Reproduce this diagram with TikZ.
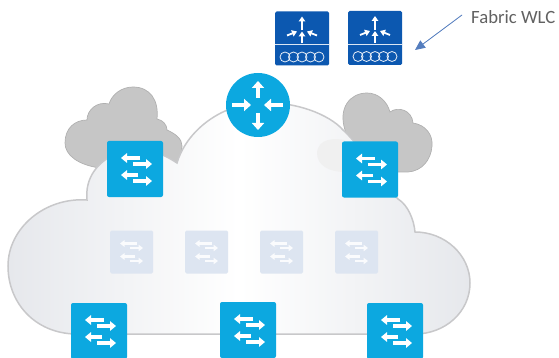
\documentclass[tikz,border=0pt]{standalone}
\usepackage{fontspec}
\setmainfont{Carlito}
\usetikzlibrary{arrows.meta}
\definecolor{swblue}{RGB}{12,168,224}
\definecolor{wlcblue}{RGB}{12,88,176}
\definecolor{pale}{RGB}{221,229,241}
\definecolor{cloudgray}{RGB}{198,198,198}
\definecolor{cloudedge}{RGB}{176,176,176}
\definecolor{bigedge}{RGB}{200,200,202}
\definecolor{fill1}{RGB}{230,232,236}
\definecolor{pointer}{RGB}{84,125,190}
\tikzset{
  px/.style={x=1pt,y=-1pt},
  swbox/.style={fill=swblue,rounded corners=2pt,minimum size=56pt,inner sep=0pt,draw=none},
  palebox/.style={fill=pale,rounded corners=1.5pt,minimum size=43pt,inner sep=0pt,draw=none},
  wlcbox/.style={fill=wlcblue,rounded corners=1.5pt,minimum size=54pt,inner sep=0pt,draw=none},
  routerc/.style={fill=swblue,circle,minimum size=64pt,inner sep=0pt,draw=none},
  swarrow/.style={-{Triangle[width=9.5pt,length=6pt]},line width=3.3pt,white},
  rarrow/.style={-{Triangle[width=12pt,length=7pt]},line width=4.6pt,white},
  palearrow/.style={-{Triangle[width=6.5pt,length=4.5pt]},line width=2.2pt,white!85!pale},
  wlcarrow/.style={-{Triangle[width=6.5pt,length=5pt]},line width=1.8pt,white},
  smallcloud/.style={fill=cloudgray,draw=cloudedge,line width=0.7pt},
}
\newcommand{\swsym}[1]{%
  \draw[swarrow] ([shift={(5,-11)}]#1.center) -- ([shift={(-14,-11)}]#1.center);
  \draw[swarrow] ([shift={(-2,-5)}]#1.center) -- ([shift={(17,-5)}]#1.center);
  \draw[swarrow] ([shift={(3,6)}]#1.center) -- ([shift={(-14,6)}]#1.center);
  \draw[swarrow] ([shift={(-2,12)}]#1.center) -- ([shift={(17,12)}]#1.center);
}
\newcommand{\palesym}[1]{%
  \draw[palearrow] ([shift={(5.5,-8.5)}]#1.center) -- ([shift={(-11.5,-8.5)}]#1.center);
  \draw[palearrow] ([shift={(-1.5,-4)}]#1.center) -- ([shift={(11.5,-4)}]#1.center);
  \draw[palearrow] ([shift={(3.5,4.5)}]#1.center) -- ([shift={(-11.5,4.5)}]#1.center);
  \draw[palearrow] ([shift={(-1.5,9)}]#1.center) -- ([shift={(11.5,9)}]#1.center);
}
\newcommand{\wlcsym}[1]{%
  \draw[white!85!wlcblue,line width=0.8pt] ([shift={(-27,6)}]#1.center) -- ([shift={(27,6)}]#1.center);
  \draw[wlcarrow] ([shift={(0,-8)}]#1.center) -- ([shift={(0,-22)}]#1.center);
  \draw[wlcarrow] ([shift={(0,5)}]#1.center) -- ([shift={(0,-7)}]#1.center);
  \draw[wlcarrow] ([shift={(-15,-3)}]#1.center) -- ([shift={(-5,-7)}]#1.center);
  \draw[wlcarrow] ([shift={(15,-3)}]#1.center) -- ([shift={(5,-7)}]#1.center);
  \foreach \k in {-17,-8.5,0,8.5,17}{
    \draw[white!90!wlcblue,line width=0.8pt] ([shift={(\k,18.5)}]#1.center) ellipse[x radius=5pt,y radius=5pt];
  }
}
\begin{document}
\begin{tikzpicture}[px]
\useasboundingbox (0,0) rectangle (559,358);
% left small cloud
\path[smallcloud] (100,168) .. controls (78,165) and (65,155) .. (65,143)
  .. controls (65,128) and (75,120) .. (87,120)
  .. controls (87,110) and (97,101) .. (109,104)
  .. controls (112,94) and (122,87) .. (133,87)
  .. controls (150,87) and (159,100) .. (157,119)
  .. controls (163,120) and (167,125) .. (167,130)
  .. controls (176,134) and (182,139) .. (182,146)
  .. controls (182,152) and (180,158) .. (177,165) -- cycle;
% right small cloud
\path[smallcloud] (345,172) -- (345,130) .. controls (338,108) and (350,93) .. (367,93)
  .. controls (378,93) and (387,101) .. (390,112)
  .. controls (398,106) and (412,110) .. (413,123)
  .. controls (426,125) and (433,135) .. (432,146)
  .. controls (431,160) and (422,171) .. (408,172) -- cycle;
% big cloud
\shade[left color=fill1,right color=fill1,middle color=white,draw=bigedge,line width=1.5pt]
  (75,334) .. controls (35,333) and (8,303) .. (8,266)
  .. controls (8,228) and (45,197) .. (87,200)
  .. controls (85,180) and (95,160) .. (125,150)
  .. controls (145,145) and (165,155) .. (177,163)
  .. controls (185,135) and (215,107) .. (255,103)
  .. controls (295,100) and (330,115) .. (343,130)
  .. controls (360,145) and (385,185) .. (398,199)
  .. controls (408,205) and (414,220) .. (415,232)
  .. controls (445,232) and (470,255) .. (470,283)
  .. controls (470,312) and (445,334) .. (415,334) -- cycle;
% grey cloud seen through the big cloud
\path[fill=black!6] (345,140) .. controls (335,138) and (318,138) .. (317,153)
  .. controls (317,166) and (330,172) .. (345,172) -- cycle;
% pale switches
\foreach \n/\x in {p1/131.5,p2/206.5,p3/281.5,p4/356.5}{
  \node[palebox] (\n) at (\x,252) {};
  \palesym{\n}
}
% bright switches
\node[swbox] (s1) at (135,169) {}; \swsym{s1}
\node[swbox] (s2) at (370,169.5) {}; \swsym{s2}
\node[swbox] (s3) at (99,331) {}; \swsym{s3}
\node[swbox] (s4) at (248,330) {}; \swsym{s4}
\node[swbox] (s5) at (395,331) {}; \swsym{s5}
% router
\node[routerc] (r) at (258,105) {};
\draw[rarrow] ([shift={(0,-7)}]r.center) -- ([shift={(0,-24)}]r.center);
\draw[rarrow] ([shift={(0,8)}]r.center) -- ([shift={(0,25)}]r.center);
\draw[rarrow] ([shift={(-26,0)}]r.center) -- ([shift={(-7,0)}]r.center);
\draw[rarrow] ([shift={(25,0)}]r.center) -- ([shift={(6,0)}]r.center);
% WLCs
\node[wlcbox] (w1) at (302,38.5) {}; \wlcsym{w1}
\node[wlcbox] (w2) at (375,38) {}; \wlcsym{w2}
% label
\node[text=black!62,font=\fontsize{18.7pt}{22pt}\selectfont,inner sep=0pt,anchor=west] (lab) at (471,17) {Fabric WLC};
\coordinate (tail) at (462,15);
\coordinate (tip) at (415,50);
\draw[-{Triangle[width=9pt,length=10pt]},draw=pointer,fill=pointer,line width=0.8pt] (tail) -- (tip);
\end{tikzpicture}
\end{document}
